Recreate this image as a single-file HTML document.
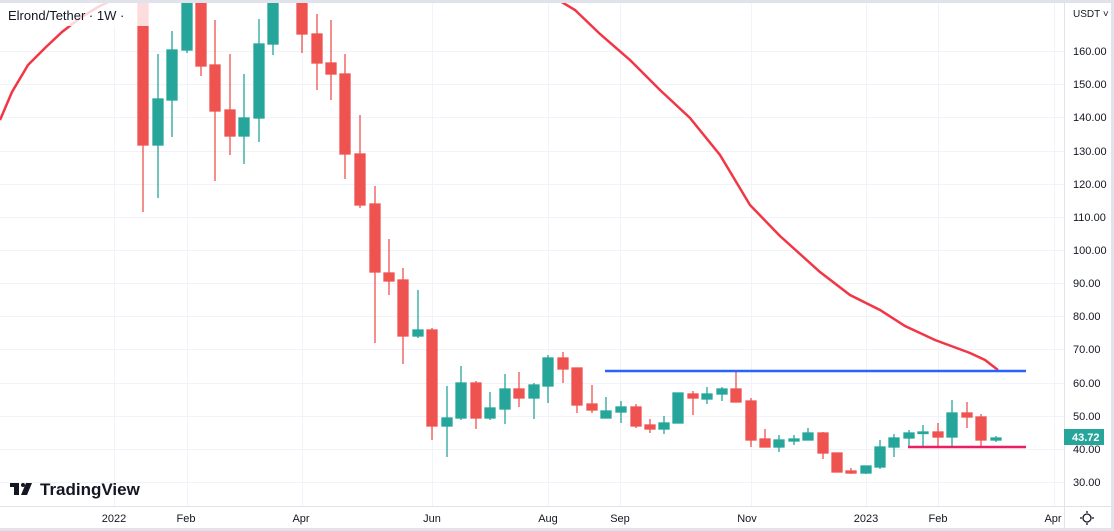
<!DOCTYPE html>
<html><head><meta charset="utf-8"><style>
html,body{margin:0;padding:0;background:#fff;}
svg{display:block;font-family:"Liberation Sans",sans-serif;}
</style></head><body>
<svg width="1114" height="531" viewBox="0 0 1114 531" xmlns="http://www.w3.org/2000/svg">
<rect x="0" y="0" width="1114" height="531" fill="#fff"/>
<!-- grid -->
<g stroke="#f0f3fa" stroke-width="1">
<line x1="0" x2="1064" y1="51.5" y2="51.5"/><line x1="0" x2="1064" y1="84.5" y2="84.5"/>
<line x1="0" x2="1064" y1="117.5" y2="117.5"/><line x1="0" x2="1064" y1="151.5" y2="151.5"/>
<line x1="0" x2="1064" y1="184.5" y2="184.5"/><line x1="0" x2="1064" y1="217.5" y2="217.5"/>
<line x1="0" x2="1064" y1="250.5" y2="250.5"/><line x1="0" x2="1064" y1="283.5" y2="283.5"/>
<line x1="0" x2="1064" y1="316.5" y2="316.5"/><line x1="0" x2="1064" y1="349.5" y2="349.5"/>
<line x1="0" x2="1064" y1="383.5" y2="383.5"/><line x1="0" x2="1064" y1="416.5" y2="416.5"/>
<line x1="0" x2="1064" y1="449.5" y2="449.5"/><line x1="0" x2="1064" y1="482.5" y2="482.5"/>
<line x1="114.5" x2="114.5" y1="0" y2="506"/><line x1="187.5" x2="187.5" y1="0" y2="506"/>
<line x1="302.5" x2="302.5" y1="0" y2="506"/><line x1="432.5" x2="432.5" y1="0" y2="506"/>
<line x1="548.5" x2="548.5" y1="0" y2="506"/><line x1="620.5" x2="620.5" y1="0" y2="506"/>
<line x1="751.5" x2="751.5" y1="0" y2="506"/><line x1="866.5" x2="866.5" y1="0" y2="506"/>
<line x1="938.5" x2="938.5" y1="0" y2="506"/><line x1="1054.5" x2="1054.5" y1="0" y2="506"/>
</g>
<!-- candles -->
<g stroke-width="1.3">
<g stroke="#ef5350" fill="#ef5350">
<line x1="143" x2="143" y1="-5" y2="212"/><rect x="138" y="-5" width="10" height="150"/>
<line x1="201" x2="201" y1="-5" y2="76"/><rect x="196" y="-5" width="10" height="71"/>
<line x1="215" x2="215" y1="20" y2="181"/><rect x="210" y="65" width="10" height="46"/>
<line x1="230" x2="230" y1="54" y2="155"/><rect x="225" y="110" width="10" height="26"/>
<line x1="302" x2="302" y1="-5" y2="53"/><rect x="297" y="-5" width="10" height="39"/>
<line x1="317" x2="317" y1="14" y2="90"/><rect x="312" y="34" width="10" height="29"/>
<line x1="331" x2="331" y1="20" y2="100"/><rect x="326" y="63" width="10" height="11"/>
<line x1="345" x2="345" y1="54" y2="179"/><rect x="340" y="74" width="10" height="80"/>
<line x1="360" x2="360" y1="115" y2="208"/><rect x="355" y="154" width="10" height="51"/>
<line x1="375" x2="375" y1="186" y2="343"/><rect x="370" y="204" width="10" height="68"/>
<line x1="389" x2="389" y1="239" y2="295"/><rect x="384" y="273" width="10" height="8"/>
<line x1="403" x2="403" y1="268" y2="364"/><rect x="398" y="280" width="10" height="56"/>
<line x1="432" x2="432" y1="328" y2="440"/><rect x="427" y="330" width="10" height="96"/>
<line x1="476" x2="476" y1="381" y2="429"/><rect x="471" y="383" width="10" height="35"/>
<line x1="519" x2="519" y1="372" y2="407"/><rect x="514" y="389" width="10" height="9"/>
<line x1="563" x2="563" y1="352" y2="383"/><rect x="558" y="358" width="10" height="11"/>
<line x1="577" x2="577" y1="368" y2="413"/><rect x="572" y="368" width="10" height="37"/>
<line x1="592" x2="592" y1="385" y2="413"/><rect x="587" y="404" width="10" height="6"/>
<line x1="636" x2="636" y1="404" y2="428"/><rect x="631" y="407" width="10" height="19"/>
<line x1="650" x2="650" y1="419" y2="433"/><rect x="645" y="425" width="10" height="4"/>
<line x1="693" x2="693" y1="391" y2="415"/><rect x="688" y="394" width="10" height="4"/>
<line x1="736" x2="736" y1="370" y2="402"/><rect x="731" y="389" width="10" height="13"/>
<line x1="751" x2="751" y1="398" y2="447"/><rect x="746" y="401" width="10" height="39"/>
<line x1="765" x2="765" y1="429" y2="447"/><rect x="760" y="439" width="10" height="8"/>
<line x1="823" x2="823" y1="432" y2="459"/><rect x="818" y="433" width="10" height="20"/>
<line x1="837" x2="837" y1="453" y2="472"/><rect x="832" y="453" width="10" height="19"/>
<line x1="851" x2="851" y1="468" y2="474"/><rect x="846" y="471" width="10" height="2"/>
<line x1="938" x2="938" y1="423" y2="447"/><rect x="933" y="432" width="10" height="5"/>
<line x1="967" x2="967" y1="402" y2="428"/><rect x="962" y="413" width="10" height="4"/>
<line x1="981" x2="981" y1="414" y2="446"/><rect x="976" y="417" width="10" height="23"/>
</g>
<g stroke="#26a69a" fill="#26a69a">
<line x1="158" x2="158" y1="54" y2="198"/><rect x="153" y="99" width="10" height="46"/>
<line x1="172" x2="172" y1="31" y2="137"/><rect x="167" y="50" width="10" height="50"/>
<line x1="187" x2="187" y1="-5" y2="53"/><rect x="182" y="-5" width="10" height="55"/>
<line x1="244" x2="244" y1="74" y2="164"/><rect x="239" y="118" width="10" height="18"/>
<line x1="259" x2="259" y1="19" y2="142"/><rect x="254" y="44" width="10" height="74"/>
<line x1="273" x2="273" y1="-5" y2="55"/><rect x="268" y="-5" width="10" height="49"/>
<line x1="418" x2="418" y1="290" y2="338"/><rect x="413" y="330" width="10" height="6"/>
<line x1="447" x2="447" y1="386" y2="457"/><rect x="442" y="418" width="10" height="8"/>
<line x1="461" x2="461" y1="366" y2="420"/><rect x="456" y="383" width="10" height="35"/>
<line x1="490" x2="490" y1="392" y2="420"/><rect x="485" y="408" width="10" height="10"/>
<line x1="505" x2="505" y1="374" y2="424"/><rect x="500" y="389" width="10" height="20"/>
<line x1="534" x2="534" y1="383" y2="419"/><rect x="529" y="385" width="10" height="13"/>
<line x1="548" x2="548" y1="355" y2="403"/><rect x="543" y="358" width="10" height="28"/>
<line x1="606" x2="606" y1="397" y2="418"/><rect x="601" y="411" width="10" height="7"/>
<line x1="621" x2="621" y1="401" y2="423"/><rect x="616" y="407" width="10" height="5"/>
<line x1="664" x2="664" y1="416" y2="434"/><rect x="659" y="423" width="10" height="6"/>
<line x1="678" x2="678" y1="393" y2="423"/><rect x="673" y="393" width="10" height="30"/>
<line x1="707" x2="707" y1="387" y2="404"/><rect x="702" y="394" width="10" height="5"/>
<line x1="722" x2="722" y1="387" y2="401"/><rect x="717" y="389" width="10" height="5"/>
<line x1="779" x2="779" y1="435" y2="452"/><rect x="774" y="440" width="10" height="7"/>
<line x1="794" x2="794" y1="435" y2="445"/><rect x="789" y="439" width="10" height="2"/>
<line x1="808" x2="808" y1="428" y2="440"/><rect x="803" y="433" width="10" height="7"/>
<line x1="866" x2="866" y1="466" y2="474"/><rect x="861" y="466" width="10" height="7"/>
<line x1="880" x2="880" y1="440" y2="469"/><rect x="875" y="447" width="10" height="20"/>
<line x1="894" x2="894" y1="434" y2="457"/><rect x="889" y="438" width="10" height="9"/>
<line x1="909" x2="909" y1="430" y2="447"/><rect x="904" y="433" width="10" height="5"/>
<line x1="923" x2="923" y1="425" y2="447"/><rect x="918" y="432" width="10" height="1.5"/>
<line x1="952" x2="952" y1="400" y2="447"/><rect x="947" y="413" width="10" height="24"/>
<line x1="996" x2="996" y1="436" y2="442"/><rect x="991" y="438" width="10" height="2"/>
</g>
</g>
<!-- MA -->
<path d="M0,120 L12,92 L28,65 L45,48 L62,32 L80,18 L98,7 L112,0" fill="none" stroke="#f23645" stroke-width="2.5"/>
<path d="M555,-2 L575,10 L600,34 L630,60 L660,90 L690,118 L720,155 L750,205 L780,236 L820,272 L850,295 L880,310 L905,326 L935,340 L970,353 L985,360 L998,370" fill="none" stroke="#f23645" stroke-width="2.5"/>
<!-- lines -->
<line x1="605" x2="1026" y1="371" y2="371" stroke="#2962ff" stroke-width="2.5"/>
<line x1="908" x2="1026" y1="447" y2="447" stroke="#e91e63" stroke-width="2.5"/>
<!-- title -->
<rect x="0" y="2" width="160" height="24" fill="#fff" opacity="0.8"/>
<text x="8" y="20" font-size="13" fill="#131722">Elrond/Tether · 1W · </text>
<!-- frame -->
<rect x="0" y="0" width="1114" height="3" fill="#e0e3eb"/>
<rect x="0" y="528" width="1114" height="3" fill="#e0e3eb"/>
<line x1="0" x2="1114" y1="506.5" y2="506.5" stroke="#e0e3eb"/>
<line x1="1064.5" x2="1064.5" y1="0" y2="528" stroke="#e0e3eb"/>
<rect x="1111" y="0" width="3" height="531" fill="#e0e3eb"/>
<!-- price labels -->
<g font-size="11" fill="#131722">
<text x="1073" y="17" fill="#131722" font-size="10">USDT ˅</text>
<text x="1073" y="55">160.00</text><text x="1073" y="88">150.00</text><text x="1073" y="121">140.00</text>
<text x="1073" y="155">130.00</text><text x="1073" y="188">120.00</text><text x="1073" y="221">110.00</text>
<text x="1073" y="254">100.00</text><text x="1073" y="287">90.00</text><text x="1073" y="320">80.00</text>
<text x="1073" y="353">70.00</text><text x="1073" y="387">60.00</text><text x="1073" y="420">50.00</text>
<text x="1073" y="453">40.00</text><text x="1073" y="486">30.00</text>
</g>
<rect x="1064" y="429" width="40" height="16" fill="#26a69a"/>
<text x="1072" y="441" font-size="11" font-weight="bold" fill="#fff">43.72</text>
<!-- time labels -->
<g font-size="11" fill="#131722" text-anchor="middle">
<text x="114" y="522">2022</text><text x="186" y="522">Feb</text><text x="301" y="522">Apr</text>
<text x="432" y="522">Jun</text><text x="548" y="522">Aug</text><text x="620" y="522">Sep</text>
<text x="747" y="522">Nov</text><text x="866" y="522">2023</text><text x="938" y="522">Feb</text>
<text x="1053" y="522">Apr</text>
</g>
<!-- gear -->
<circle cx="1087" cy="518" r="4" fill="none" stroke="#131722" stroke-width="1.3"/>
<g stroke="#131722" stroke-width="1.3"><line x1="1087" x2="1087" y1="511" y2="513"/><line x1="1087" x2="1087" y1="523" y2="525"/><line x1="1080" x2="1082" y1="518" y2="518"/><line x1="1092" x2="1094" y1="518" y2="518"/></g>
<!-- logo -->
<rect x="10" y="483" width="9" height="4" fill="#131722"/><rect x="14" y="483" width="5" height="12" fill="#131722"/>
<circle cx="23" cy="485" r="2" fill="#131722"/><polygon points="26,483 32,483 27,495 21,495" fill="#131722"/>
<text x="40" y="495" font-size="17" font-weight="bold" fill="#131722">TradingView</text>
</svg>
</body></html>
